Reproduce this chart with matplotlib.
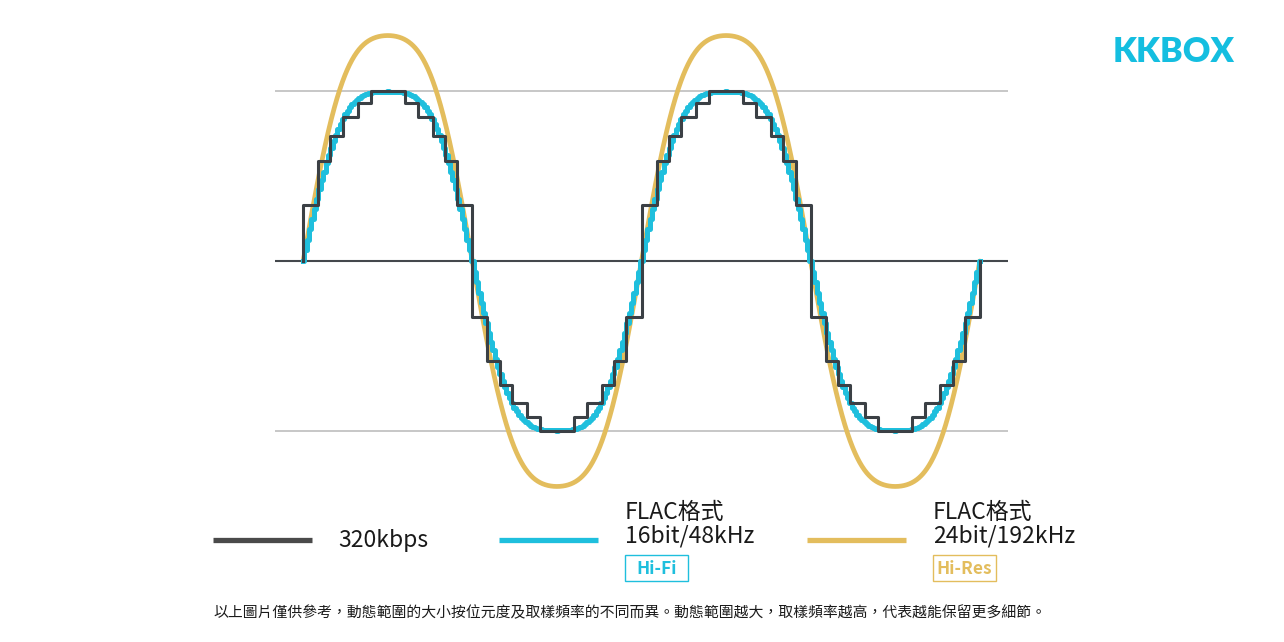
import numpy as np
import matplotlib
matplotlib.use("Agg")
import matplotlib.pyplot as plt
from matplotlib.lines import Line2D
from matplotlib.patches import Rectangle

plt.rcParams['font.family'] = ['Noto Sans CJK TC', 'DejaVu Sans']

# waveform data (phase in degrees, amplitude relative to the gray guide lines)
n_cycles = 2
hifi_amp = 1.0      # 16bit/48kHz
hires_amp = 1.33    # 24bit/192kHz
hifi_harm3 = 0.1    # 3rd harmonic share, the drawn waves are a bit "fat"
hires_harm3 = 0.08
hifi_step = 2.5     # degrees between hi-fi samples

# 320kbps staircase: step edges and held levels
step_x = [0, 0, 16, 29, 42, 58, 72, 108, 122, 138, 151, 164,
          180, 196, 209, 222, 238, 252, 288, 302, 318, 331, 344,
          360, 376, 389, 402, 418, 432, 468, 482, 498, 511, 524,
          540, 556, 569, 582, 598, 612, 648, 662, 678, 691, 704, 720]
step_y = [0, 0.33, 0.59, 0.74, 0.85, 0.93, 1.0, 0.93, 0.85, 0.74, 0.59, 0.33,
          -0.33, -0.59, -0.73, -0.84, -0.92, -1.0, -0.92, -0.84, -0.73, -0.59, -0.33,
          0.33, 0.59, 0.74, 0.85, 0.93, 1.0, 0.93, 0.85, 0.74, 0.59, 0.33,
          -0.33, -0.59, -0.73, -0.84, -0.92, -1.0, -0.92, -0.84, -0.73, -0.59, -0.33, 0]

legend_labels = ["320kbps", "FLAC格式\n16bit/48kHz", "FLAC格式\n24bit/192kHz"]
badges = ["Hi-Fi", "Hi-Res"]
footer = "以上圖片僅供參考，動態範圍的大小按位元度及取樣頻率的不同而異。動態範圍越大，取樣頻率越高，代表越能保留更多細節。"

c_step = "#3b4045"
c_cyan = "#1fbfdd"
c_gold = "#e3bd5d"
c_text = "#1a1a1a"

W, H = 1284, 642
fig = plt.figure(figsize=(W / 100, H / 100), dpi=100)

def fx(px):
    return px / W

def fy(py):
    return 1 - py / H

def wave(deg, amp, h3):
    r = np.radians(deg)
    return amp * (np.sin(r) + h3 * np.sin(3 * r)) / (1 - h3)

ax = fig.add_axes([fx(275), fy(506.8), fx(733), 491.6 / H])
ax.set_xlim(-30, 750)
ax.set_ylim(-1.45, 1.45)
ax.axis("off")

ax.axhline(1, color="#bdbdbd", lw=1.2, zorder=1)
ax.axhline(-1, color="#bdbdbd", lw=1.2, zorder=1)
ax.axhline(0, color="#44484c", lw=1.5, zorder=1)

t = np.linspace(0, 360 * n_cycles, 2000)
ax.plot(t, wave(t, hires_amp, hires_harm3), color=c_gold, lw=3.4, zorder=2,
        solid_capstyle="round")

ts = np.arange(0, 360 * n_cycles + hifi_step, hifi_step)
ax.step(ts, wave(ts, hifi_amp, hifi_harm3), where="mid", color=c_cyan, lw=3.6, zorder=3)

ax.step(step_x, step_y, where="post", color=c_step, lw=2.2, zorder=4)

# legend
ly = fy(540)
for (x0, x1), col in zip([(213, 312), (499, 598), (807, 906)], ["#4a4a4a", c_cyan, c_gold]):
    fig.add_artist(Line2D([fx(x0), fx(x1)], [ly, ly], color=col, lw=3.8,
                          solid_capstyle="butt"))

fig.text(fx(338), ly, legend_labels[0], fontsize=16.5, color=c_text, va="center")
fig.text(fx(625), fy(524), legend_labels[1], fontsize=16.5, color=c_text, va="center",
         linespacing=1.05)
fig.text(fx(933), fy(524), legend_labels[2], fontsize=16.5, color=c_text, va="center",
         linespacing=1.05)

for x0, label, col in [(625, badges[0], c_cyan), (933, badges[1], c_gold)]:
    fig.add_artist(Rectangle((fx(x0), fy(581)), fx(63), 26 / H, fill=False,
                             edgecolor=col, lw=1.0, transform=fig.transFigure))
    fig.text(fx(x0 + 31.5), fy(568.5), label, fontsize=12.5, color=col,
             fontweight="bold", ha="center", va="center")

fig.text(fx(1174), fy(52), "KKBOX", fontsize=24.5, color="#14bee0", fontweight="heavy",
         family=["Lato", "DejaVu Sans"], ha="center", va="center")

fig.text(fx(213), fy(613), footer, fontsize=10.7, color=c_text, va="center")

fig.savefig("out.png", dpi=100, facecolor="white")
